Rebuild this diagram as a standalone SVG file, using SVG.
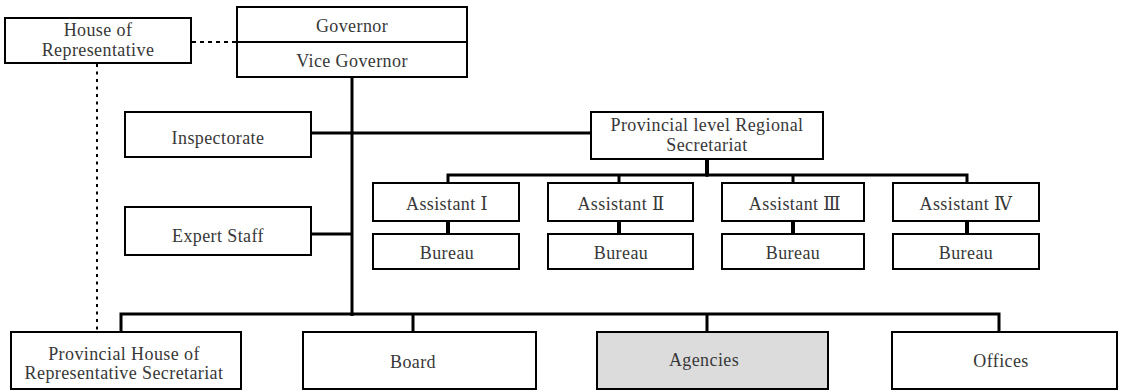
<svg xmlns="http://www.w3.org/2000/svg" width="1121" height="392" viewBox="0 0 1121 392">
  <style>
    .box { fill: #ffffff; stroke: #000000; stroke-width: 2; }
    .shaded { fill: #dcdcdc; }
    .lbl { font-family: "Liberation Serif", "DejaVu Serif", "Noto Sans CJK KR", serif; font-size: 18px; letter-spacing: 0.4px; fill: #383838; text-anchor: middle; }
    .link { fill: none; stroke: #000000; stroke-width: 3; }
    .drop { fill: none; stroke: #000000; stroke-width: 4; }
    .dotted { fill: none; stroke: #000000; stroke-width: 2; }
    .dash-h { stroke-dasharray: 4 4; }
    .dash-v { stroke-dasharray: 3 4.5; }
  </style>
  <rect width="1121" height="392" fill="#ffffff"/>

  <!-- connectors -->
  <g id="connectors">
    <path class="dotted dash-h" d="M192,42 H237"/>
    <path class="dotted dash-v" d="M97,64 V331"/>
    <path class="link" d="M352,77 V316"/>
    <path class="link" d="M311,133 H591"/>
    <path class="link" d="M311,234 H352"/>
    <path class="drop" d="M707,159 V175" stroke-linecap="round"/>
    <path class="link" d="M448,183 V175 H967 V183"/>
    <path class="link" d="M619,175 V183 M793,175 V183"/>
    <path class="drop" d="M448,221 V234 M619,221 V234 M793,221 V234 M967,221 V234"/>
    <path class="link" d="M121,332 V314 H999 V332"/>
    <path class="link" d="M413,314 V332 M707,314 V332"/>
  </g>

  <g id="house-of-representative">
    <rect class="box" x="5" y="18" width="186" height="45"/>
    <text class="lbl" x="98" y="36">House of</text>
    <text class="lbl" x="98" y="56">Representative</text>
  </g>

  <g id="governor">
    <rect class="box" x="237" y="7" width="230" height="70"/>
    <line x1="237" y1="42" x2="467" y2="42" stroke="#000" stroke-width="2"/>
    <text class="lbl" x="352" y="32">Governor</text>
    <text class="lbl" x="352" y="67">Vice Governor</text>
  </g>

  <g id="inspectorate">
    <rect class="box" x="125" y="112" width="186" height="45"/>
    <text class="lbl" x="218" y="144">Inspectorate</text>
  </g>

  <g id="expert-staff">
    <rect class="box" x="125" y="207" width="186" height="48"/>
    <text class="lbl" x="218" y="242">Expert Staff</text>
  </g>

  <g id="regional-secretariat">
    <rect class="box" x="591" y="112" width="232" height="47"/>
    <text class="lbl" x="707" y="131">Provincial level Regional</text>
    <text class="lbl" x="707" y="151">Secretariat</text>
  </g>

  <g id="assistant-1">
    <rect class="box" x="373" y="183" width="146" height="38"/>
    <text class="lbl" x="447" y="209.5">Assistant Ⅰ</text>
  </g>
  <g id="bureau-1">
    <rect class="box" x="373" y="234" width="146" height="35"/>
    <text class="lbl" x="447" y="258.5">Bureau</text>
  </g>

  <g id="assistant-2">
    <rect class="box" x="548" y="183" width="145" height="38"/>
    <text class="lbl" x="621" y="209.5">Assistant Ⅱ</text>
  </g>
  <g id="bureau-2">
    <rect class="box" x="548" y="234" width="145" height="35"/>
    <text class="lbl" x="621" y="258.5">Bureau</text>
  </g>

  <g id="assistant-3">
    <rect class="box" x="722" y="183" width="142" height="38"/>
    <text class="lbl" x="795" y="209.5">Assistant Ⅲ</text>
  </g>
  <g id="bureau-3">
    <rect class="box" x="722" y="234" width="142" height="35"/>
    <text class="lbl" x="793" y="258.5">Bureau</text>
  </g>

  <g id="assistant-4">
    <rect class="box" x="893" y="183" width="146" height="38"/>
    <text class="lbl" x="966" y="209.5">Assistant Ⅳ</text>
  </g>
  <g id="bureau-4">
    <rect class="box" x="893" y="234" width="146" height="35"/>
    <text class="lbl" x="966" y="258.5">Bureau</text>
  </g>

  <g id="house-secretariat">
    <rect class="box" x="11" y="332" width="230" height="57"/>
    <text class="lbl" x="124" y="359.5">Provincial House of</text>
    <text class="lbl" x="124" y="378.5">Representative Secretariat</text>
  </g>

  <g id="board">
    <rect class="box" x="303" y="332" width="233" height="57"/>
    <text class="lbl" x="413" y="368">Board</text>
  </g>

  <g id="agencies">
    <rect class="box shaded" x="597" y="332" width="231" height="57"/>
    <text class="lbl" x="704" y="366">Agencies</text>
  </g>

  <g id="offices">
    <rect class="box" x="892" y="332" width="225" height="57"/>
    <text class="lbl" x="1001" y="367">Offices</text>
  </g>
</svg>
